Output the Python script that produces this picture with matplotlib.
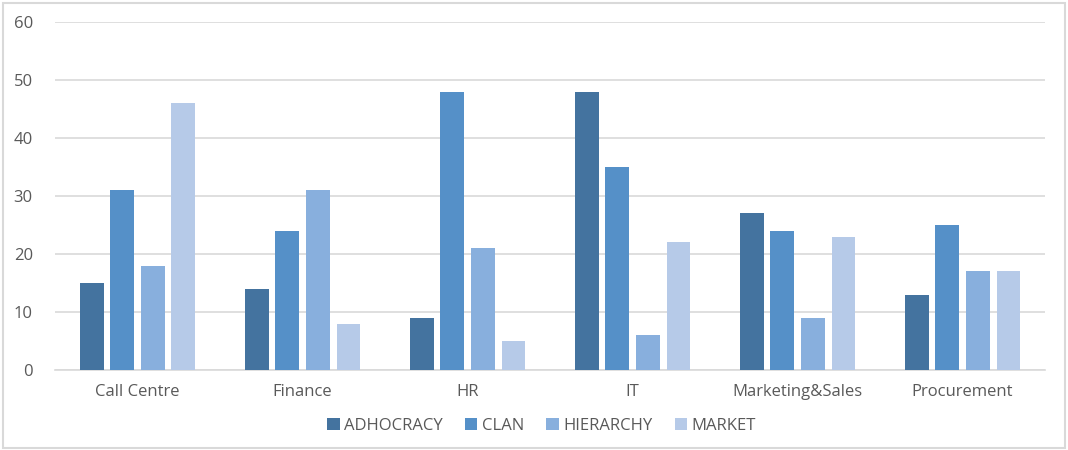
import matplotlib
matplotlib.use("Agg")
import matplotlib.pyplot as plt
import numpy as np
from matplotlib.patches import Rectangle

plt.rcParams['font.family'] = ['Open Sans', 'DejaVu Sans']

departments = ["Call Centre", "Finance", "HR", "IT", "Marketing&Sales", "Procurement"]
adhocracy = [15, 14, 9, 48, 27, 13]
clan = [31, 24, 48, 35, 24, 25]
hierarchy = [18, 31, 21, 6, 9, 17]
market = [46, 8, 5, 22, 23, 17]

series = [("ADHOCRACY", adhocracy, "#44739f"),
          ("CLAN", clan, "#5590c8"),
          ("HIERARCHY", hierarchy, "#88afdd"),
          ("MARKET", market, "#b6cae8")]

fig = plt.figure(figsize=(10.68, 4.5), dpi=100)
ax = fig.add_axes([0.0515, 0.178, 0.927, 0.773])

x = np.arange(len(departments))
step = 0.185
width = 0.143
for i, (name, vals, col) in enumerate(series):
    ax.bar(x + (i - 1.5) * step, vals, width, color=col, label=name, zorder=3)

ax.set_xlim(-0.5, len(departments) - 0.5)
ax.set_ylim(0, 60)
ax.set_yticks(range(0, 61, 10))
ax.set_xticks(x)
ax.set_xticklabels(departments)
ax.grid(axis='y', color='#d9d9d9', linewidth=1.2, zorder=0)
for s in ['top', 'right', 'left']:
    ax.spines[s].set_visible(False)
ax.spines['bottom'].set_color('#d9d9d9')
ax.spines['bottom'].set_linewidth(1.2)
ax.tick_params(axis='both', length=0, labelsize=12, colors='#595959')
ax.tick_params(axis='y', pad=16)
ax.tick_params(axis='x', pad=10)

fig.legend(loc='center', bbox_to_anchor=(0.507, 0.053), ncol=4, frameon=False,
           fontsize=12, handlelength=0.75, handleheight=0.75, columnspacing=1.35,
           handletextpad=0.25, labelcolor='#595959')

fig.patches.append(Rectangle((0.003, 0.004), 0.994, 0.99, transform=fig.transFigure,
                             fill=False, edgecolor='#d9d9d9', linewidth=1.5))

fig.savefig("out.png", dpi=100)
